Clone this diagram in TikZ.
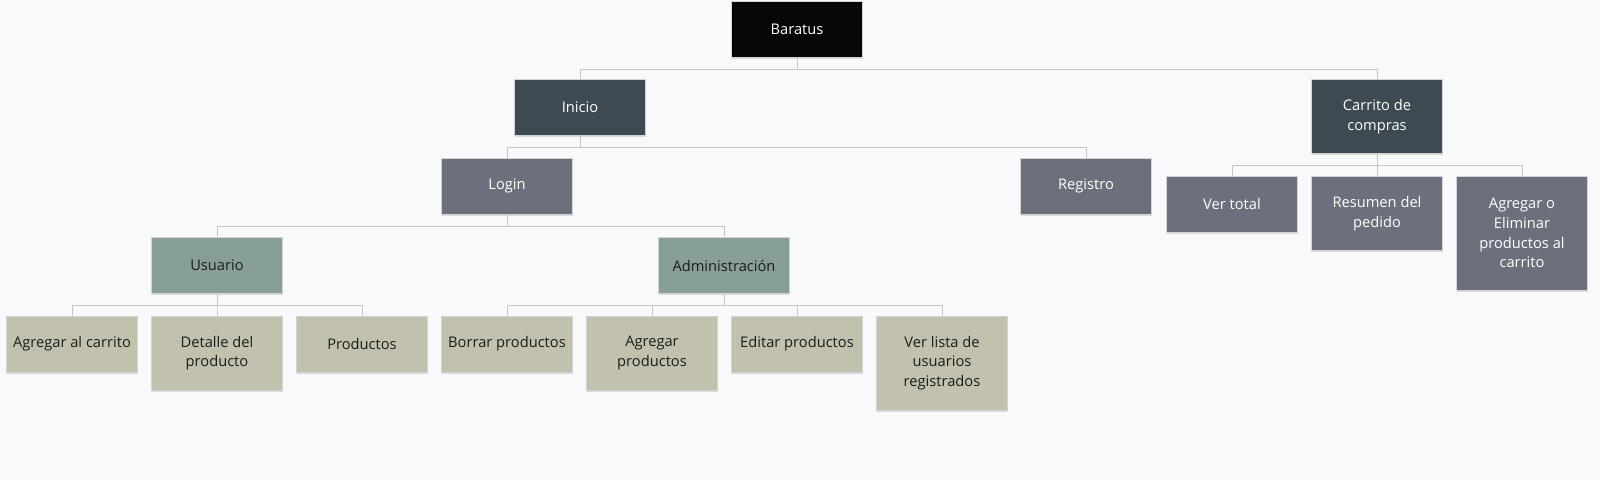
\documentclass[tikz,border=0pt]{standalone}
\usepackage{fontspec}
\setmainfont{Open Sans}
\usetikzlibrary{shadows}

\definecolor{fondo}{HTML}{F8F9FB}
\definecolor{negro}{HTML}{060606}
\definecolor{pizarra}{HTML}{3E4A52}
\definecolor{gris}{HTML}{6C707C}
\definecolor{verdoso}{HTML}{889F98}
\definecolor{arena}{HTML}{C2C1AE}
\definecolor{linea}{HTML}{C5C7CA}
\definecolor{borde}{HTML}{D2D3D5}
\definecolor{tinta}{HTML}{1C1C1C}

\tikzset{
  caja/.style={draw=borde, line width=0.75pt, anchor=north, align=center,
    minimum width=98pt, minimum height=42pt, inner xsep=3pt, inner ysep=4pt,
    font=\fontsize{11}{14.8}\selectfont,
    drop shadow={shadow xshift=0.6pt, shadow yshift=-1.2pt, opacity=0.12, fill=black}},
  doble/.style={minimum height=55.75pt},
  triple/.style={minimum height=70.75pt},
  cuadruple/.style={minimum height=85.25pt},
  raiz/.style={caja, fill=negro, text=white},
  seccion/.style={caja, fill=pizarra, text=white},
  pagina/.style={caja, fill=gris, text=white},
  perfil/.style={caja, fill=verdoso, text=tinta},
  accion/.style={caja, fill=arena, text=tinta},
  rama/.style={draw=linea, line width=0.75pt}
}

\begin{document}
\begin{tikzpicture}[x=0.75pt, y=0.75pt]
    \fill[fondo] (0,0) rectangle (1600,-480);
    \useasboundingbox (0,0) rectangle (1600,-480);

    \node[raiz]           (bar)  at (797,-0.5)                           {Baratus};
    \node[seccion]        (ini)  at ([shift={(-217,-21.5)}] bar.south)   {Inicio};
    \node[seccion, doble] (car)  at ([shift={( 580,-21.5)}] bar.south)   {Carrito de\\compras};
    \node[pagina]         (log)  at ([shift={( -73,-21.5)}] ini.south)   {Login};
    \node[pagina]         (reg)  at ([shift={( 506,-21.5)}] ini.south)   {Registro};
    \node[pagina]         (vtot) at ([shift={(-145,-21.5)}] car.south)   {Ver total};
    \node[pagina, doble]  (res)  at ([shift={(   0,-21.5)}] car.south)   {Resumen del\\pedido};
    \node[pagina, cuadruple] (agel) at ([shift={( 145,-21.5)}] car.south) {Agregar o\\Eliminar\\productos al\\carrito};
    \node[perfil]         (usu)  at ([shift={(-290,-22.5)}] log.south)   {Usuario};
    \node[perfil]         (adm)  at ([shift={( 217,-22.5)}] log.south)   {Administración};
    \node[accion]         (agc)  at ([shift={(-145,-21.5)}] usu.south)   {Agregar al carrito};
    \node[accion, doble]  (det)  at ([shift={(   0,-21.5)}] usu.south)   {Detalle del\\producto};
    \node[accion]         (pro)  at ([shift={( 145,-21.5)}] usu.south)   {Productos};
    \node[accion]         (bor)  at ([shift={(-217,-21.5)}] adm.south)   {Borrar productos};
    \node[accion, doble]  (agp)  at ([shift={( 145,0)}]     bor.north)   {Agregar\\productos};
    \node[accion]         (edi)  at ([shift={( 145,0)}]     agp.north)   {Editar productos};
    \node[accion, triple] (ver)  at ([shift={( 145,0)}]     edi.north)   {Ver lista de\\usuarios\\registrados};

    \foreach \p/\c in {bar/ini, bar/car, ini/log, ini/reg, car/vtot, car/res, car/agel,
                       log/usu, log/adm, usu/agc, usu/det, usu/pro,
                       adm/bor, adm/agp, adm/edi, adm/ver}
      \draw[rama] (\p.south) -- ++(0,-11.5) -| (\c.north);
  \end{tikzpicture}
\end{document}
